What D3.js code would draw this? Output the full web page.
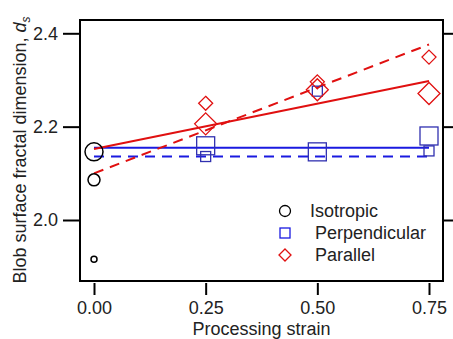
<!DOCTYPE html>
<html>
<head>
<meta charset="utf-8">
<script src="https://cdn.jsdelivr.net/npm/d3@7"></script>
<style>
  body { margin: 0; background: #fff; }
  svg { font-family: "Liberation Sans", Arial, sans-serif; }
</style>
</head>
<body>
<div id="chart"></div>
<script>
// values
const xTicks = [0, 0.25, 0.5, 0.75];
const yTicks = [2.0, 2.2, 2.4];

// isotropic circles at strain 0 (value, radius)
const isoVals = [2.146, 2.086, 1.916];
const isoSize = [9, 6, 3];

// perpendicular squares
const perpX = [0.25, 0.25, 0.5, 0.5, 0.75, 0.75];
const perpVals = [2.159, 2.136, 2.146, 2.276, 2.180, 2.148];
const perpSize = [18, 10, 18, 10, 18, 10];

// parallel diamonds
const parX = [0.25, 0.25, 0.5, 0.5, 0.75, 0.75];
const parVals = [2.250, 2.206, 2.296, 2.279, 2.349, 2.271];
const parSize = [7, 11, 7, 11, 7, 11];

// fit lines [start, end] at strain 0 and 0.75
const perpSolid = [2.155, 2.155];
const perpDash = [2.136, 2.136];
const parSolid = [2.152, 2.298];
const parDash = [2.100, 2.376];

const legendLabels = ["Isotropic", "Perpendicular", "Parallel"];

const W = 453, H = 339;
const box = { left: 80, right: 443, top: 20, bottom: 281 };
const blue = "#1a1ae0", blueMark = "#3030b0", red = "#e01010";

const svg = d3.select("#chart").append("svg")
  .attr("width", W).attr("height", H);

const x = d3.scaleLinear().domain([0, 0.75]).range([94, 429]);
const y = d3.scaleLinear().domain([2.0, 2.4]).range([220, 33.3]);

// frame
svg.append("rect")
  .attr("x", box.left).attr("y", box.top)
  .attr("width", box.right - box.left).attr("height", box.bottom - box.top)
  .attr("fill", "none").attr("stroke", "#000").attr("stroke-width", 2);

// axes
const styleAxis = g => {
  g.select(".domain").remove();
  g.selectAll(".tick line").attr("stroke", "#000").attr("stroke-width", 2);
  g.selectAll(".tick text").attr("fill", "#222").style("font-size", "18px");
};

svg.append("g")
  .attr("transform", `translate(${box.left},0)`)
  .call(d3.axisLeft(y).tickValues(yTicks).tickSize(17).tickPadding(5).tickFormat(d3.format(".1f")))
  .call(styleAxis);

svg.append("g")
  .attr("transform", `translate(${box.right},0)`)
  .call(d3.axisRight(y).tickValues(yTicks).tickSize(10).tickFormat(""))
  .call(styleAxis);

svg.append("g")
  .attr("transform", `translate(0,${box.bottom + 2})`)
  .call(d3.axisBottom(x).tickValues(xTicks).tickSize(12).tickPadding(6).tickFormat(d3.format(".2f")))
  .call(styleAxis);

// axis titles
svg.append("text")
  .attr("x", (box.left + box.right) / 2).attr("y", 335)
  .attr("text-anchor", "middle").attr("fill", "#222")
  .style("font-size", "18px")
  .text("Processing strain");

const yt = svg.append("text")
  .attr("transform", "translate(26,150) rotate(-90)")
  .attr("text-anchor", "middle").attr("fill", "#222")
  .style("font-size", "18px");
yt.append("tspan").text("Blob surface fractal dimension, ");
yt.append("tspan").style("font-style", "italic").text("d");
yt.append("tspan").style("font-style", "italic").style("font-size", "12px")
  .attr("dy", 4).text("s");

// fit lines
const fits = [
  { v: perpSolid, c: blue, dash: null },
  { v: perpDash, c: blue, dash: "10,7" },
  { v: parSolid, c: red, dash: null },
  { v: parDash, c: red, dash: "10,7" }
];
svg.append("g").selectAll("line").data(fits).join("line")
  .attr("x1", x(0)).attr("x2", x(0.75))
  .attr("y1", d => y(d.v[0])).attr("y2", d => y(d.v[1]))
  .attr("stroke", d => d.c).attr("stroke-width", 2)
  .attr("stroke-dasharray", d => d.dash);

// isotropic circles
svg.append("g").selectAll("circle").data(isoVals).join("circle")
  .attr("cx", x(0)).attr("cy", d => y(d))
  .attr("r", (d, i) => isoSize[i])
  .attr("fill", "none").attr("stroke", "#000").attr("stroke-width", 1.5);

// perpendicular squares
svg.append("g").selectAll("rect").data(perpVals).join("rect")
  .attr("x", (d, i) => x(perpX[i]) - perpSize[i] / 2)
  .attr("y", (d, i) => y(d) - perpSize[i] / 2)
  .attr("width", (d, i) => perpSize[i]).attr("height", (d, i) => perpSize[i])
  .attr("fill", "none").attr("stroke", blueMark).attr("stroke-width", 1.3);

// parallel diamonds
const diamond = (cx, cy, r) => `M${cx},${cy - r}L${cx + r},${cy}L${cx},${cy + r}L${cx - r},${cy}Z`;
svg.append("g").selectAll("path").data(parVals).join("path")
  .attr("d", (d, i) => diamond(x(parX[i]), y(d), parSize[i]))
  .attr("fill", "none").attr("stroke", red).attr("stroke-width", 1.3);

// legend
const lg = svg.append("g");
const lx = 285, ly = [211, 233, 255], tx = [310, 315, 315];
lg.append("circle").attr("cx", lx).attr("cy", ly[0]).attr("r", 5.5)
  .attr("fill", "none").attr("stroke", "#000").attr("stroke-width", 1.3);
lg.append("rect").attr("x", lx - 5).attr("y", ly[1] - 5).attr("width", 10).attr("height", 10)
  .attr("fill", "none").attr("stroke", blue).attr("stroke-width", 1.3);
lg.append("path").attr("d", diamond(lx, ly[2], 6))
  .attr("fill", "none").attr("stroke", red).attr("stroke-width", 1.3);
lg.selectAll("text").data(legendLabels).join("text")
  .attr("x", (d, i) => tx[i]).attr("y", (d, i) => ly[i] + 6)
  .attr("fill", "#222").style("font-size", "18px")
  .text(d => d);
</script>
</body>
</html>
